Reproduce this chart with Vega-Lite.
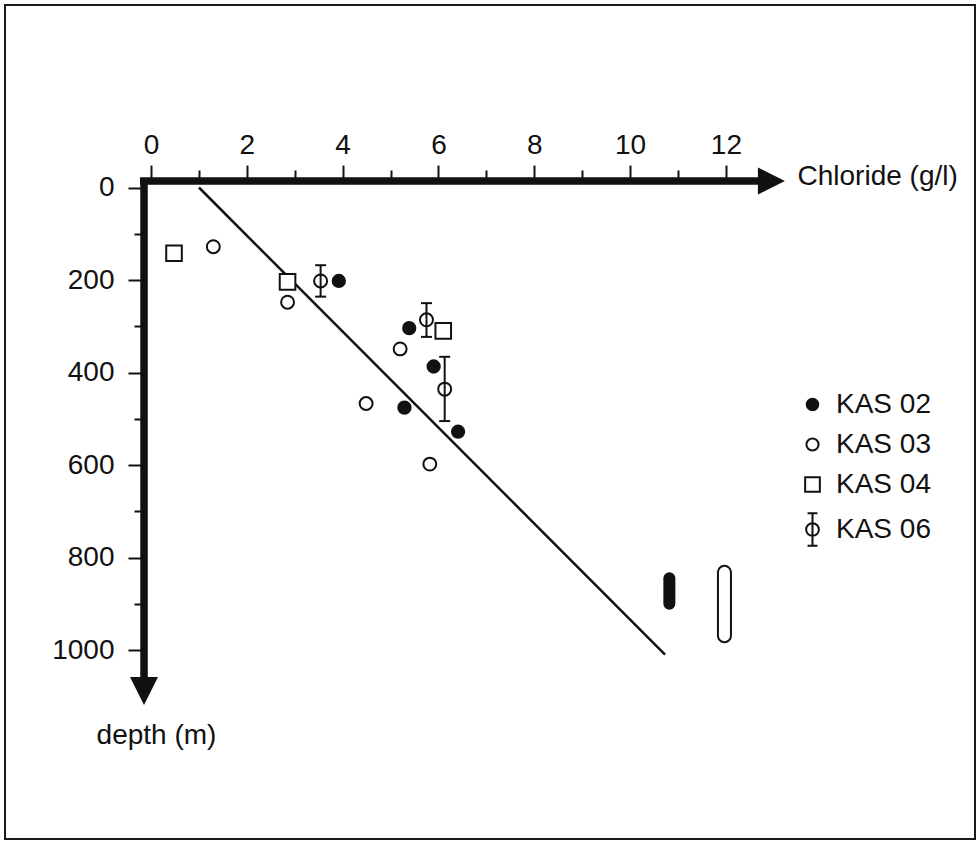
{
  "$schema": "https://vega.github.io/schema/vega-lite/v6.json",
  "width": 970,
  "height": 834,
  "autosize": {"type": "none"},
  "padding": {"left": 5, "top": 5, "right": 1, "bottom": 2},
  "background": "white",
  "config": {
    "view": {"stroke": "#1a1a1a", "strokeWidth": 2},
    "legend": {
      "labelFont": "Liberation Sans",
      "labelFontSize": 28,
      "labelColor": "#111",
      "padding": 0,
      "rowPadding": 10,
      "labelOffset": 8,
      "symbolStrokeColor": "#111",
      "symbolStrokeWidth": 2
    }
  },
  "datasets": {
    "obs": [
      {"series": "KAS 02", "chloride": 3.92, "depth": 202},
      {"series": "KAS 02", "chloride": 5.39, "depth": 304},
      {"series": "KAS 02", "chloride": 5.90, "depth": 387},
      {"series": "KAS 02", "chloride": 5.29, "depth": 476},
      {"series": "KAS 02", "chloride": 6.41, "depth": 528},
      {"series": "KAS 03", "chloride": 1.30, "depth": 128},
      {"series": "KAS 03", "chloride": 2.85, "depth": 248},
      {"series": "KAS 03", "chloride": 5.20, "depth": 349},
      {"series": "KAS 03", "chloride": 4.49, "depth": 467},
      {"series": "KAS 03", "chloride": 5.82, "depth": 598},
      {"series": "KAS 04", "chloride": 0.48, "depth": 142},
      {"series": "KAS 04", "chloride": 2.85, "depth": 204},
      {"series": "KAS 04", "chloride": 6.10, "depth": 310},
      {"series": "KAS 06", "chloride": 3.54, "depth": 202, "depth_lo": 168, "depth_hi": 236},
      {"series": "KAS 06", "chloride": 5.75, "depth": 286, "depth_lo": 250, "depth_hi": 323},
      {"series": "KAS 06", "chloride": 6.13, "depth": 436, "depth_lo": 366, "depth_hi": 505}
    ],
    "fit": [
      {"chloride": 1.0, "depth": 0},
      {"chloride": 10.73, "depth": 1010}
    ],
    "capsules": [
      {"kind": "filled", "chloride": 10.82, "depth": 845, "depth_end": 900},
      {"kind": "open", "chloride": 11.97, "depth": 832, "depth_end": 969}
    ],
    "axisbars": [
      {"axis": "x", "chloride": -0.23, "depth": -14, "chloride_end": 12.71, "depth_end": -14},
      {"axis": "y", "chloride": -0.146, "depth": -20.5, "chloride_end": -0.146, "depth_end": 1065}
    ],
    "arrowheads": [
      {"direction": "right", "chloride": 12.95, "depth": -14},
      {"direction": "down", "chloride": -0.146, "depth": 1088.6}
    ]
  },
  "encoding": {
    "x": {
      "field": "chloride",
      "type": "quantitative",
      "scale": {"domain": [-3.048, 17.2], "nice": false, "zero": false},
      "axis": {
        "orient": "top",
        "offset": -176,
        "domain": false,
        "grid": false,
        "values": [0, 1, 2, 3, 4, 5, 6, 7, 8, 9, 10, 11, 12],
        "tickSize": {"condition": {"test": "datum.value % 2 === 1", "value": 11}, "value": 16},
        "tickWidth": 2,
        "tickColor": "#111",
        "labelExpr": "datum.value % 2 === 0 ? datum.label : ''",
        "labelFont": "Liberation Sans",
        "labelFontSize": 28,
        "labelColor": "#111",
        "labelPadding": 6,
        "labelFlush": false,
        "labelOverlap": false,
        "title": "Chloride (g/l)",
        "titleX": 792,
        "titleY": 3,
        "titleAlign": "left",
        "titleBaseline": "alphabetic",
        "titleAngle": 0,
        "titleFont": "Liberation Sans",
        "titleFontSize": 28,
        "titleFontWeight": "normal",
        "titleColor": "#111"
      }
    },
    "y": {
      "field": "depth",
      "type": "quantitative",
      "scale": {"domain": [-394.6, 1408.6], "nice": false, "zero": false, "reverse": true},
      "axis": {
        "orient": "left",
        "offset": -139,
        "domain": false,
        "grid": false,
        "values": [0, 100, 200, 300, 400, 500, 600, 700, 800, 900, 1000],
        "format": "d",
        "tickSize": {"condition": {"test": "datum.value % 200 !== 0", "value": 10}, "value": 16},
        "tickWidth": 2,
        "tickColor": "#111",
        "labelExpr": "datum.value % 200 === 0 ? datum.label : ''",
        "labelFont": "Liberation Sans",
        "labelFontSize": 28,
        "labelColor": "#111",
        "labelPadding": 14,
        "labelFlush": false,
        "labelOverlap": false,
        "title": "depth (m)",
        "titleX": 12,
        "titleY": 738,
        "titleAlign": "center",
        "titleBaseline": "alphabetic",
        "titleAngle": 0,
        "titleFont": "Liberation Sans",
        "titleFontSize": 28,
        "titleFontWeight": "normal",
        "titleColor": "#111"
      }
    }
  },
  "layer": [
    {
      "data": {"name": "axisbars"},
      "mark": {"type": "rule", "color": "#111", "strokeWidth": 7.5},
      "encoding": {
        "x2": {"field": "chloride_end"},
        "y2": {"field": "depth_end"}
      }
    },
    {
      "data": {"name": "arrowheads"},
      "transform": [{"filter": "datum.direction === 'right'"}],
      "mark": {"type": "point", "shape": "M-1,-1L1,0L-1,1Z", "size": 729, "filled": true, "color": "#111", "opacity": 1}
    },
    {
      "data": {"name": "arrowheads"},
      "transform": [{"filter": "datum.direction === 'down'"}],
      "mark": {"type": "point", "shape": "M-1,-1L1,-1L0,1Z", "size": 784, "filled": true, "color": "#111", "opacity": 1}
    },
    {
      "data": {"name": "fit"},
      "mark": {"type": "line", "color": "#111", "strokeWidth": 2.5}
    },
    {
      "data": {"name": "capsules"},
      "transform": [{"filter": "datum.kind === 'filled'"}],
      "mark": {"type": "rule", "color": "#111", "strokeWidth": 12, "strokeCap": "round"},
      "encoding": {"y2": {"field": "depth_end"}}
    },
    {
      "data": {"name": "capsules"},
      "transform": [{"filter": "datum.kind === 'open'"}],
      "mark": {"type": "rule", "color": "#111", "strokeWidth": 15, "strokeCap": "round"},
      "encoding": {"y2": {"field": "depth_end"}}
    },
    {
      "data": {"name": "capsules"},
      "transform": [{"filter": "datum.kind === 'open'"}],
      "mark": {"type": "rule", "color": "white", "strokeWidth": 11, "strokeCap": "round"},
      "encoding": {"y2": {"field": "depth_end"}}
    },
    {
      "data": {"name": "obs"},
      "transform": [
        {"filter": "datum.series === 'KAS 06'"},
        {"fold": ["depth_lo", "depth_hi"], "as": ["end", "depth_end"]}
      ],
      "mark": {"type": "rule", "color": "#111", "strokeWidth": 2},
      "encoding": {"y2": {"field": "depth_end"}}
    },
    {
      "data": {"name": "obs"},
      "transform": [
        {"filter": "datum.series === 'KAS 06'"},
        {"fold": ["depth_lo", "depth_hi"], "as": ["end", "depth"]}
      ],
      "mark": {"type": "tick", "orient": "horizontal", "size": 11, "thickness": 2, "color": "#111", "opacity": 1}
    },
    {
      "data": {"name": "obs"},
      "transform": [{"filter": "datum.series === 'KAS 06'"}],
      "mark": {"type": "point", "shape": "circle", "size": 169, "filled": false, "stroke": "#111", "strokeWidth": 2, "opacity": 1}
    },
    {
      "data": {"name": "obs"},
      "transform": [{"filter": "datum.series !== 'KAS 06'"}],
      "mark": {"type": "point", "filled": true, "strokeWidth": 2, "size": 900, "opacity": 1},
      "encoding": {
        "shape": {
          "field": "series",
          "type": "nominal",
          "scale": {
            "domain": ["KAS 02", "KAS 03", "KAS 04", "KAS 06"],
            "range": [
              "M-0.41,0A0.41,0.41 0 1,0 0.41,0A0.41,0.41 0 1,0 -0.41,0Z",
              "M-0.43,0A0.43,0.43 0 1,0 0.43,0A0.43,0.43 0 1,0 -0.43,0Z",
              "M-0.52,-0.52L0.52,-0.52L0.52,0.52L-0.52,0.52Z",
              "M-0.45,0A0.45,0.45 0 1,0 0.45,0A0.45,0.45 0 1,0 -0.45,0ZM0,-1.15L0,1.15M-0.35,-1.15L0.35,-1.15M-0.35,1.15L0.35,1.15"
            ]
          },
          "legend": {
            "title": null,
            "orient": "none",
            "legendX": 792,
            "legendY": 384,
            "symbolSize": 800
          }
        },
        "fill": {
          "field": "series",
          "type": "nominal",
          "scale": {
            "domain": ["KAS 02", "KAS 03", "KAS 04", "KAS 06"],
            "range": ["#111", "white", "white", "white"]
          },
          "legend": {
            "title": null,
            "orient": "none",
            "legendX": 792,
            "legendY": 384,
            "symbolSize": 800
          }
        },
        "stroke": {
          "field": "series",
          "type": "nominal",
          "scale": {
            "domain": ["KAS 02", "KAS 03", "KAS 04", "KAS 06"],
            "range": ["#111", "#111", "#111", "#111"]
          },
          "legend": {
            "title": null,
            "orient": "none",
            "legendX": 792,
            "legendY": 384,
            "symbolSize": 800
          }
        }
      }
    }
  ]
}
